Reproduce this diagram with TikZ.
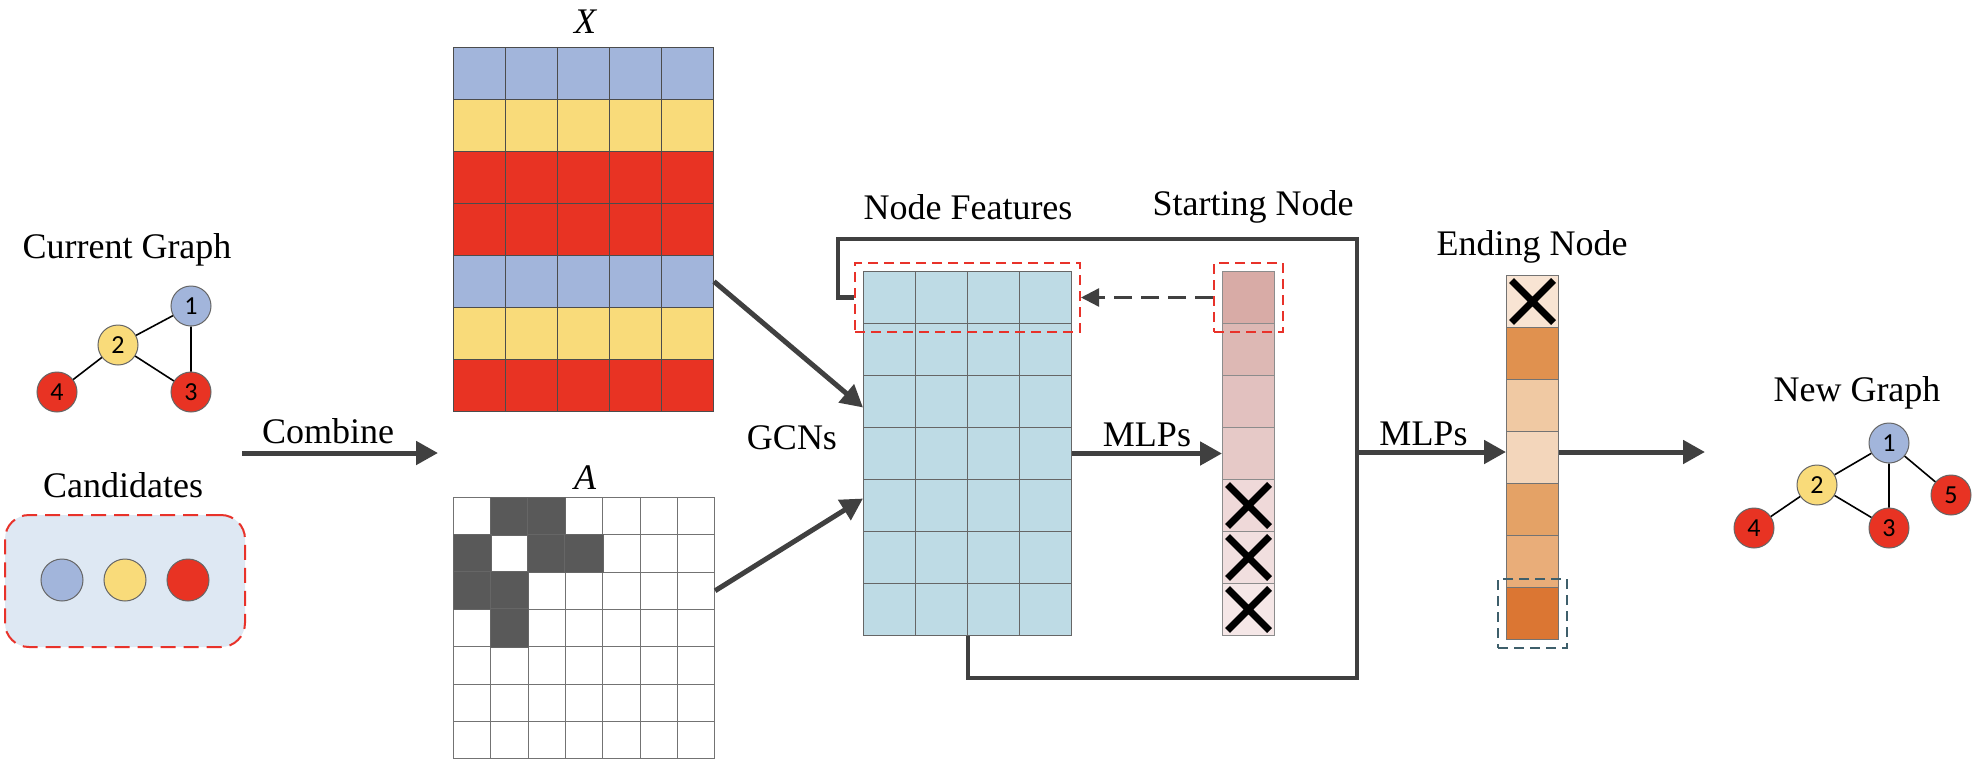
\documentclass[tikz,border=0pt]{standalone}
\usepackage{fontspec}
\setmainfont{Liberation Serif}
\newfontfamily\numfont{Carlito}
\usetikzlibrary{arrows.meta,positioning,fit}

\definecolor{nodeblue}{HTML}{A2B5DB}
\definecolor{nodeyellow}{HTML}{F9DB7A}
\definecolor{nodered}{HTML}{E83323}
\definecolor{featblue}{HTML}{BEDBE5}
\definecolor{arrowgray}{HTML}{404040}
\definecolor{candbg}{HTML}{DEE8F3}
\definecolor{dashred}{HTML}{E8322A}
\definecolor{dashteal}{HTML}{3E5F6B}
\definecolor{adjdark}{HTML}{595959}

\begin{document}
\begin{tikzpicture}[x=0.5pt, y=-0.5pt, >={Triangle[length=11pt,width=11.5pt]},
    every node/.style={font=\fontsize{18}{21}\selectfont},
    gnode/.style={circle, draw=black!60, line width=0.5pt, minimum size=20pt, inner sep=0pt, font=\numfont\fontsize{13}{13}\selectfont},
    gedge/.style={line width=0.8pt},
    cell/.style={draw=black!70, line width=0.5pt, minimum size=26pt, inner sep=0pt, anchor=north west},
    acell/.style={cell, draw=black!55, minimum size=18.65pt},
    flow/.style={->, line width=2.5pt, draw=arrowgray},
    dflow/.style={-{Triangle[length=9pt,width=9pt]}, line width=1.2pt, draw=arrowgray, dash pattern=on 9pt off 4.5pt},
    loopline/.style={line width=2.2pt, draw=arrowgray},
    redbox/.style={draw=dashred, line width=1pt, dash pattern=on 5pt off 3pt, inner sep=4pt},
    tealbox/.style={redbox, draw=dashteal},
    xmark/.style={line width=3.5pt, draw=black}]
    \useasboundingbox (0,0) rectangle (1988,766);

    % current graph and candidates
    \node (curlbl) at (127,250) {Current Graph};
    \node[gnode, fill=nodeblue] (c1) at (191,306) {1};
    \node[gnode, fill=nodeyellow] (c2) at (118,345) {2};
    \node[gnode, fill=nodered] (c3) at (191,392) {3};
    \node[gnode, fill=nodered] (c4) at (57,392) {4};
    \draw[gedge] (c1) -- (c2) (c1) -- (c3) (c2) -- (c3) (c2) -- (c4);
    \node (candlbl) at (123,485) {Candidates};
    \node[draw=dashred, fill=candbg, line width=1pt, dash pattern=on 7.5pt off 4pt, rounded corners=12pt,
          minimum width=120pt, minimum height=66pt] (candbox) at (125,581) {};
    \node[gnode, fill=nodeblue, minimum size=21pt] (cb) at (62,580) {};
    \node[gnode, fill=nodeyellow, minimum size=21pt] (cy) at (125,580) {};
    \node[gnode, fill=nodered, minimum size=21pt] (cr) at (188,580) {};

    \coordinate (cmbL) at (242,453);
    \coordinate (cmbR) at (438,453);
    \draw[flow] (cmbL) -- node[above, xshift=-6pt] {Combine} (cmbR);

    % X and A
    \node (xlbl) at (585,22) {\itshape X};
    \foreach \r/\col in {1/nodeblue,2/nodeyellow,3/nodered,4/nodered,5/nodeblue,6/nodeyellow,7/nodered}
      \foreach \c in {1,...,5}
        \node[cell, fill=\col] (X-\r-\c) at ({453+52*(\c-1)},{47+52*(\r-1)}) {};

    \node (albl) at (585,478) {\itshape A};
    \foreach \r in {1,...,7}
      \foreach \c in {1,...,7}
        \node[acell, fill=white] (A-\r-\c) at ({453+37.3*(\c-1)},{497+37.3*(\r-1)}) {};
    \foreach \r/\c in {1/2,1/3,2/1,2/3,2/4,3/1,3/2,4/2}
      \filldraw[fill=adjdark, draw=black!60, line width=0.5pt] (A-\r-\c.north west) rectangle (A-\r-\c.south east);

    % node features
    \node (featlbl) at (968,207) {Node Features};
    \node (gcnlbl) at (792,438) {GCNs};
    \foreach \r in {1,...,7}
      \foreach \c in {1,...,4}
        \node[cell, fill=featblue, draw=black!60] (F-\r-\c) at ({863+52*(\c-1)},{271+52*(\r-1)}) {};
    \node[redbox, fit=(F-1-1)(F-1-4)] (Fsel) {};

    \draw[flow] (X-5-5.east) -- ([yshift=-3pt]F-3-1.west);
    \draw[flow] (A-3-7.east) -- ([yshift=3.5pt]F-5-1.west);

    % starting node
    \node (startlbl) at (1253,207) {Starting Node};
    \foreach \r/\hex in {1/D8ABA6,2/DDB8B4,3/E2C1BF,4/E6C9C7,5/EFD9D9,6/F1DFDF,7/F5E7E7}{
      \definecolor{tmpc}{HTML}{\hex}
      \node[cell, fill=tmpc, draw=black!45] (S-\r) at (1222,{271+52*(\r-1)}) {};
    }
    \foreach \r in {5,6,7}
      \draw[xmark] (S-\r.center) +(-21,-21) -- +(21,21) +(-21,21) -- +(21,-21);
    \node[redbox, fit=(S-1)] (Ssel) {};
    \draw[dflow] (Ssel.west) -- (Fsel.east);

    % ending node
    \node (endlbl) at (1532,247) {Ending Node};
    \foreach \r/\hex in {1/F8E4D3,2/E0914F,3/F0C9A3,4/F3D6BB,5/E4A266,6/E9AD79,7/DB7633}{
      \definecolor{tmpc}{HTML}{\hex}
      \node[cell, fill=tmpc, draw=black!55] (E-\r) at (1506,{275+52*(\r-1)}) {};
    }
    \draw[xmark] (E-1.center) +(-21,-21) -- +(21,21) +(-21,21) -- +(21,-21);
    \node[tealbox, fit=(E-7)] (Esel) {};

    % loop and MLPs
    \coordinate (jn) at (1357,452);
    \coordinate (loopBR) at (1357,678);
    \coordinate (loopTL) at (838,239);
    \draw[loopline] (F-7-2.south east) |- (loopBR) -- (loopBR |- loopTL) -- (loopTL) |- (Fsel.west);
    \draw[flow] (F-4-4.east) -- node[above, inner sep=2pt] {MLPs} (F-4-4.east -| S-4.west);
    \draw[flow] (jn) -- node[above, inner sep=2pt, xshift=-4pt] {MLPs} (jn -| E-4.west);
    \coordinate (ngin) at (1705,452);
    \draw[flow] (jn -| E-4.east) -- (ngin);

    % new graph
    \node (newlbl) at (1857,393) {New Graph};
    \node[gnode, fill=nodeblue] (n1) at (1889,443) {1};
    \node[gnode, fill=nodeyellow] (n2) at (1817,485) {2};
    \node[gnode, fill=nodered] (n3) at (1889,528) {3};
    \node[gnode, fill=nodered] (n4) at (1754,528) {4};
    \node[gnode, fill=nodered] (n5) at (1951,495) {5};
    \draw[gedge] (n1) -- (n2) (n1) -- (n3) (n2) -- (n3) (n2) -- (n4) (n1) -- (n5);
\end{tikzpicture}
\end{document}
